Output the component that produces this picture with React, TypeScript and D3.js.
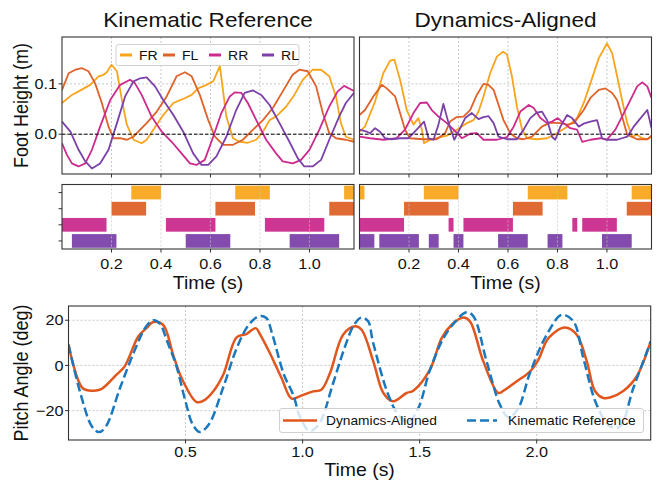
import React from "react";
import * as d3 from "d3";

type Pt = [number, number];

const legNames = ["FR", "FL", "RR", "RL"];
const legColors = ["#f8a51d", "#de6229", "#cb2b8d", "#7b41a9"];

// kinematic reference foot heights: [time s, height m]
const kinFR: Pt[] = [[0, 0.062], [0.04, 0.078], [0.067, 0.085], [0.114, 0.098], [0.148, 0.115], [0.168, 0.118], [0.181, 0.123], [0.2, 0.138], [0.222, 0.125], [0.242, 0.068], [0.262, 0.019], [0.289, -0.011], [0.322, -0.018], [0.342, -0.011], [0.369, 0.009], [0.409, 0.038], [0.45, 0.062], [0.49, 0.07], [0.524, 0.078], [0.55, 0.091], [0.584, 0.098], [0.611, 0.105], [0.638, 0.135], [0.664, 0.035], [0.691, -0.008], [0.718, -0.015], [0.751, -0.017], [0.785, -0.011], [0.812, 0.005], [0.839, 0.028], [0.865, 0.035], [0.906, 0.055], [0.939, 0.078], [0.973, 0.108], [1.013, 0.128], [1.047, 0.128], [1.08, 0.115], [1.107, 0.075], [1.127, 0.022], [1.147, -0.005], [1.18, -0.011]];
const kinFL: Pt[] = [[0, 0.088], [0.027, 0.121], [0.054, 0.128], [0.081, 0.131], [0.107, 0.125], [0.134, 0.101], [0.161, 0.062], [0.188, 0.015], [0.208, -0.008], [0.235, -0.008], [0.262, -0.011], [0.289, -0.005], [0.316, 0.009], [0.342, 0.022], [0.383, 0.045], [0.423, 0.075], [0.463, 0.115], [0.497, 0.123], [0.524, 0.115], [0.557, 0.078], [0.591, 0.028], [0.618, -0.005], [0.651, -0.021], [0.691, -0.021], [0.731, -0.011], [0.772, 0.009], [0.812, 0.028], [0.852, 0.052], [0.892, 0.085], [0.932, 0.118], [0.959, 0.128], [0.993, 0.125], [1.027, 0.095], [1.054, 0.042], [1.08, 0.002], [1.107, -0.008], [1.147, -0.011], [1.18, -0.015]];
const kinRR: Pt[] = [[0, -0.018], [0.02, -0.041], [0.04, -0.058], [0.067, -0.064], [0.094, -0.058], [0.121, -0.031], [0.154, 0.015], [0.195, 0.068], [0.235, 0.098], [0.275, 0.108], [0.295, 0.101], [0.322, 0.078], [0.362, 0.035], [0.403, 0.005], [0.443, -0.015], [0.483, -0.038], [0.517, -0.058], [0.543, -0.061], [0.577, -0.051], [0.611, -0.005], [0.644, 0.042], [0.678, 0.075], [0.698, 0.083], [0.725, 0.082], [0.751, 0.062], [0.785, 0.028], [0.825, -0.011], [0.865, -0.038], [0.892, -0.054], [0.933, -0.058], [0.966, -0.051], [1.0, -0.031], [1.04, 0.009], [1.08, 0.055], [1.114, 0.085], [1.14, 0.096], [1.18, 0.086]];
const kinRL: Pt[] = [[0, 0.025], [0.034, 0.005], [0.067, -0.031], [0.094, -0.054], [0.121, -0.068], [0.154, -0.058], [0.188, -0.031], [0.222, 0.022], [0.255, 0.075], [0.289, 0.105], [0.316, 0.111], [0.342, 0.113], [0.376, 0.095], [0.409, 0.068], [0.45, 0.038], [0.49, 0.005], [0.53, -0.038], [0.564, -0.061], [0.591, -0.061], [0.624, -0.044], [0.664, -0.005], [0.704, 0.048], [0.738, 0.082], [0.772, 0.087], [0.805, 0.078], [0.839, 0.058], [0.879, 0.022], [0.919, -0.015], [0.953, -0.048], [0.979, -0.064], [1.013, -0.064], [1.047, -0.051], [1.08, -0.011], [1.12, 0.035], [1.147, 0.062], [1.18, 0.082]];

// dynamics-aligned foot heights
const dynFR: Pt[] = [[0, 0.005], [0.022, 0.015], [0.063, 0.065], [0.096, 0.121], [0.124, 0.146], [0.141, 0.148], [0.164, 0.108], [0.191, 0.048], [0.218, 0.019], [0.238, 0.032], [0.252, 0.009], [0.261, -0.018], [0.285, -0.011], [0.312, -0.008], [0.353, -0.003], [0.393, 0.009], [0.434, 0.022], [0.461, 0.028], [0.481, 0.045], [0.501, 0.075], [0.528, 0.121], [0.555, 0.154], [0.58, 0.164], [0.596, 0.158], [0.616, 0.115], [0.636, 0.055], [0.657, 0.009], [0.677, -0.008], [0.717, -0.01], [0.758, -0.008], [0.798, 0.002], [0.839, 0.015], [0.879, 0.032], [0.906, 0.062], [0.933, 0.101], [0.967, 0.151], [1.0, 0.18], [1.021, 0.161], [1.041, 0.115], [1.061, 0.068], [1.082, 0.022], [1.102, -0.005], [1.122, -0.001], [1.142, -0.008], [1.163, -0.01], [1.18, -0.005]];
const dynFL: Pt[] = [[0, 0.038], [0.022, 0.048], [0.056, 0.075], [0.09, 0.098], [0.11, 0.091], [0.144, 0.075], [0.164, 0.042], [0.184, 0.009], [0.204, -0.008], [0.258, -0.01], [0.312, -0.01], [0.346, 0.002], [0.366, 0.025], [0.393, 0.034], [0.42, 0.035], [0.447, 0.048], [0.474, 0.078], [0.501, 0.1], [0.521, 0.098], [0.542, 0.088], [0.562, 0.058], [0.582, 0.028], [0.609, 0.002], [0.636, -0.008], [0.663, -0.01], [0.697, -0.005], [0.737, 0.015], [0.771, 0.023], [0.812, 0.022], [0.839, 0.019], [0.866, 0.022], [0.906, 0.048], [0.933, 0.072], [0.967, 0.088], [0.994, 0.091], [1.021, 0.082], [1.041, 0.068], [1.061, 0.035], [1.082, -0.001], [1.122, -0.01], [1.163, -0.01], [1.18, -0.003]];
const dynRR: Pt[] = [[0, -0.005], [0.043, -0.008], [0.097, -0.011], [0.15, -0.008], [0.184, 0.009], [0.218, 0.042], [0.245, 0.062], [0.272, 0.063], [0.292, 0.048], [0.319, 0.035], [0.353, 0.022], [0.38, 0.009], [0.414, -0.008], [0.447, 0.001], [0.474, 0.002], [0.501, -0.011], [0.555, -0.011], [0.596, -0.006], [0.623, 0.015], [0.65, 0.045], [0.684, 0.058], [0.704, 0.052], [0.731, 0.032], [0.758, 0.022], [0.778, 0.025], [0.801, 0.032], [0.825, 0.022], [0.852, 0.012], [0.879, 0.009], [0.9, -0.015], [0.933, -0.011], [0.974, -0.008], [1.0, -0.011], [1.034, 0.009], [1.061, 0.035], [1.095, 0.068], [1.122, 0.095], [1.142, 0.103], [1.163, 0.095], [1.18, 0.072]];
const dynRL: Pt[] = [[0, 0.009], [0.029, 0.005], [0.043, 0.002], [0.063, 0.012], [0.083, 0.005], [0.103, -0.008], [0.13, -0.01], [0.164, -0.008], [0.198, -0.008], [0.231, 0.009], [0.261, 0.025], [0.279, -0.008], [0.299, -0.011], [0.319, 0.019], [0.339, 0.06], [0.36, 0.022], [0.383, -0.011], [0.407, 0.012], [0.427, 0.032], [0.454, 0.042], [0.481, 0.03], [0.501, 0.034], [0.521, 0.036], [0.542, 0.022], [0.562, -0.005], [0.596, -0.01], [0.636, -0.01], [0.663, 0.009], [0.69, 0.032], [0.717, 0.043], [0.737, 0.045], [0.758, 0.028], [0.778, -0.005], [0.791, -0.011], [0.812, 0.015], [0.839, 0.038], [0.859, 0.032], [0.886, 0.015], [0.906, 0.021], [0.933, 0.025], [0.96, 0.028], [0.98, -0.008], [1.0, -0.011], [1.041, -0.011], [1.082, -0.005], [1.108, 0.015], [1.136, 0.032], [1.163, 0.048], [1.18, 0.012]];

// contact intervals [start s, end s]
const kinContactFR: Pt[] = [[0.28, 0.40], [0.70, 0.84], [1.14, 1.18]];
const kinContactFL: Pt[] = [[0.20, 0.34], [0.62, 0.78], [1.08, 1.18]];
const kinContactRR: Pt[] = [[0.0, 0.18], [0.42, 0.62], [0.82, 1.06]];
const kinContactRL: Pt[] = [[0.04, 0.22], [0.50, 0.68], [0.92, 1.12]];
const dynContactFR: Pt[] = [[0.0, 0.02], [0.26, 0.40], [0.68, 0.84], [1.10, 1.18]];
const dynContactFL: Pt[] = [[0.18, 0.36], [0.62, 0.74], [1.08, 1.18]];
const dynContactRR: Pt[] = [[0.0, 0.18], [0.36, 0.38], [0.42, 0.62], [0.86, 0.88], [0.90, 1.04]];
const dynContactRL: Pt[] = [[0.0, 0.06], [0.08, 0.24], [0.28, 0.32], [0.38, 0.42], [0.56, 0.68], [0.76, 0.82], [0.98, 1.10]];

// pitch angle: [time s, deg]
const pitchKin: Pt[] = [[0, 9.2], [0.05, -12], [0.1, -27], [0.13, -29.5], [0.16, -27], [0.22, -10], [0.28, 6], [0.33, 17], [0.362, 20], [0.39, 18.5], [0.42, 11], [0.46, 0], [0.5, -16], [0.53, -26], [0.561, -29.5], [0.6, -26], [0.66, -10], [0.72, 8], [0.77, 18], [0.815, 21.8], [0.845, 21], [0.87, 14], [0.92, -4], [0.96, -13], [0.99, -23], [1.03, -29], [1.07, -26], [1.13, -8], [1.18, 8], [1.22, 18], [1.252, 21.2], [1.28, 19.5], [1.30, 10.6], [1.366, -13], [1.41, -22], [1.45, -25], [1.494, -19], [1.544, -2], [1.615, 14.3], [1.70, 23.5], [1.73, 21.7], [1.786, 1.8], [1.843, -17.4], [1.88, -23], [1.921, -19], [1.971, -3.4], [2.043, 13.6], [2.107, 22.4], [2.157, 19.5], [2.199, 3.3], [2.256, -17.4], [2.313, -27], [2.355, -27], [2.413, -10], [2.487, 10.6]];
const pitchDyn: Pt[] = [[0, 9.2], [0.06, -10], [0.105, -11.2], [0.14, -10.5], [0.205, -4.1], [0.24, -0.4], [0.298, 12.8], [0.333, 16.5], [0.362, 19.2], [0.404, 18], [0.447, 4.7], [0.483, -5.6], [0.547, -16.2], [0.575, -15.7], [0.618, -11.5], [0.661, -4.1], [0.718, 12.4], [0.76, 13.9], [0.8, 16.5], [0.817, 14], [0.86, 5.5], [0.91, -5.6], [0.953, -14.7], [0.987, -13.7], [1.045, -11.5], [1.08, -10.8], [1.117, -3.4], [1.173, 13.6], [1.224, 17.3], [1.252, 15.8], [1.302, 1.8], [1.345, -12.2], [1.387, -15.9], [1.444, -12.2], [1.473, -11.2], [1.544, -1.9], [1.594, 12.1], [1.637, 18], [1.686, 21.2], [1.715, 19.5], [1.772, 1.8], [1.836, -12.2], [1.857, -11.3], [1.915, -7], [1.971, -2.7], [2.007, 2.5], [2.05, 12.1], [2.121, 16.8], [2.171, 13.6], [2.214, 1.8], [2.249, -11.3], [2.285, -14.4], [2.313, -14.2], [2.37, -11.3], [2.427, -4.9], [2.487, 10.6]];

const footTicks = [0.0, 0.1];
const timeTicksTop = [0.2, 0.4, 0.6, 0.8, 1.0];
const pitchTicks = [-20, 0, 20];
const timeTicksPitch = [0.5, 1.0, 1.5, 2.0];

const FONT = "'Liberation Sans', Arial, sans-serif";
const SX = 1.08; // figure looks slightly stretched horizontally
const GRID = "#c8c8c8";
const AX = "#333";

function Txt(props: any) {
  const { x, y, size, anchor = "middle", rot, sx = SX, children } = props;
  return (
    <text
      transform={`translate(${x},${y}) scale(${sx},1)${rot ? ` rotate(${rot})` : ""}`}
      fontSize={size}
      fontFamily={FONT}
      textAnchor={anchor}
      dy="0.35em"
      fill="#111"
    >
      {children}
    </text>
  );
}

function FootPanel({ x, y, series, id, showY }: any) {
  const [x0, x1] = x.range();
  const [y1, y0] = y.range();
  const line = d3.line<Pt>().x(d => x(d[0])).y(d => y(d[1]));
  return (
    <g>
      <clipPath id={id}><rect x={x0} y={y0} width={x1 - x0} height={y1 - y0} /></clipPath>
      {timeTicksTop.map(t => <line key={t} x1={x(t)} x2={x(t)} y1={y0} y2={y1} stroke={GRID} strokeDasharray="2,2" />)}
      {footTicks.map(t => <line key={t} x1={x0} x2={x1} y1={y(t)} y2={y(t)} stroke={GRID} strokeDasharray="2,2" />)}
      <g clipPath={`url(#${id})`}>
        {series.map((s: Pt[], i: number) => (
          <path key={i} d={line(s) || ""} fill="none" stroke={legColors[i]} strokeWidth={1.8} strokeLinejoin="round" />
        ))}
      </g>
      <line x1={x0} x2={x1} y1={y(0)} y2={y(0)} stroke="#000" strokeWidth={1} strokeDasharray="3.5,2" />
      <rect x={x0} y={y0} width={x1 - x0} height={y1 - y0} fill="none" stroke={AX} strokeWidth={1.1} />
      {timeTicksTop.map(t => <line key={t} x1={x(t)} x2={x(t)} y1={y1} y2={y1 + 3.5} stroke={AX} />)}
      {showY && footTicks.map(t => (
        <g key={t}>
          <line x1={x0 - 3.5} x2={x0} y1={y(t)} y2={y(t)} stroke={AX} />
          <Txt x={x0 - 5} y={y(t)} size={15} anchor="end">{t.toFixed(1)}</Txt>
        </g>
      ))}
    </g>
  );
}

function GaitPanel({ x, y, contacts, showY }: any) {
  const [x0, x1] = x.range();
  const [y0, y1] = y.range();
  const bh = (y(1) - y(0)) * 0.85;
  return (
    <g>
      {contacts.map((c: Pt[], i: number) =>
        c.map((iv, j) => (
          <rect key={i + "-" + j} x={x(iv[0])} width={x(iv[1]) - x(iv[0])} y={y(i) - bh / 2} height={bh} fill={legColors[i]} opacity={0.95} />
        ))
      )}
      {timeTicksTop.map(t => <line key={t} x1={x(t)} x2={x(t)} y1={y0} y2={y1} stroke={GRID} strokeDasharray="2,2" opacity={0.7} />)}
      <rect x={x0} y={y0} width={x1 - x0} height={y1 - y0} fill="none" stroke={AX} strokeWidth={1.1} />
      {timeTicksTop.map(t => (
        <g key={t}>
          <line x1={x(t)} x2={x(t)} y1={y1} y2={y1 + 3.5} stroke={AX} />
          <Txt x={x(t)} y={y1 + 15} size={15}>{t.toFixed(1)}</Txt>
        </g>
      ))}
      {showY && legNames.map((n, i) => <line key={n} x1={x0 - 3.5} x2={x0} y1={y(i)} y2={y(i)} stroke={AX} />)}
      <Txt x={(x0 + x1) / 2} y={y1 + 34} size={18}>Time (s)</Txt>
    </g>
  );
}

export default function App() {
  const xL = d3.scaleLinear().domain([0, 1.18]).range([62, 354]);
  const xR = d3.scaleLinear().domain([0, 1.18]).range([359.5, 651.5]);
  const yFoot = d3.scaleLinear().domain([-0.079, 0.193]).range([174, 37]);
  const yGait = d3.scaleLinear().domain([-0.5, 3.5]).range([184.5, 249]);
  const xP = d3.scaleLinear().domain([0, 2.487]).range([68.5, 650.7]);
  const yP = d3.scaleLinear().domain([-33, 26.3]).range([440, 306]);

  const pline = d3.line<Pt>().x(d => xP(d[0])).y(d => yP(d[1])).curve(d3.curveCatmullRom);

  const [px0, px1] = xP.range();
  const [py1, py0] = yP.range();

  return (
    <div style={{ position: "absolute", left: 0, top: 0 }}>
      <svg width={659} height={481} style={{ display: "block", background: "#fff" }}>
        <Txt x={208} y={19.5} size={20} sx={1.13}>Kinematic Reference</Txt>
        <Txt x={505.5} y={19.5} size={20} sx={1.13}>Dynamics-Aligned</Txt>
        <Txt x={21} y={105.5} size={18} rot={-90}>Foot Height (m)</Txt>

        <FootPanel x={xL} y={yFoot} series={[kinFR, kinFL, kinRR, kinRL]} id="clipL" showY />
        <FootPanel x={xR} y={yFoot} series={[dynFR, dynFL, dynRR, dynRL]} id="clipR" />

        {/* leg legend */}
        <rect x={116} y={44.5} width={183} height={21} rx={2.5} fill="#fff" fillOpacity={0.85} stroke="#d0d0d0" />
        {legNames.map((n, i) => {
          const lx = [120, 163, 209, 262][i];
          return (
            <g key={n}>
              <line x1={lx} x2={lx + 12} y1={55} y2={55} stroke={legColors[i]} strokeWidth={3} />
              <Txt x={lx + 19} y={55} size={13} anchor="start">{n}</Txt>
            </g>
          );
        })}

        <GaitPanel x={xL} y={yGait} contacts={[kinContactFR, kinContactFL, kinContactRR, kinContactRL]} showY />
        <GaitPanel x={xR} y={yGait} contacts={[dynContactFR, dynContactFL, dynContactRR, dynContactRL]} />

        {/* pitch panel */}
        <clipPath id="clipP"><rect x={px0} y={py0} width={px1 - px0} height={py1 - py0} /></clipPath>
        {timeTicksPitch.map(t => <line key={t} x1={xP(t)} x2={xP(t)} y1={py0} y2={py1} stroke={GRID} strokeDasharray="2,2" />)}
        {pitchTicks.map(t => <line key={t} x1={px0} x2={px1} y1={yP(t)} y2={yP(t)} stroke={GRID} strokeDasharray="2,2" />)}
        <g clipPath="url(#clipP)">
          <path d={pline(pitchDyn) || ""} fill="none" stroke="#e0561d" strokeWidth={2.5} />
          <path d={pline(pitchKin) || ""} fill="none" stroke="#1b78bd" strokeWidth={2.5} strokeDasharray="9,4" />
        </g>
        <rect x={px0} y={py0} width={px1 - px0} height={py1 - py0} fill="none" stroke={AX} strokeWidth={1.1} />
        {pitchTicks.map(t => (
          <g key={t}>
            <line x1={px0 - 3.5} x2={px0} y1={yP(t)} y2={yP(t)} stroke={AX} />
            <Txt x={px0 - 5} y={yP(t)} size={15} anchor="end">{t < 0 ? "\u2212" + Math.abs(t) : String(t)}</Txt>
          </g>
        ))}
        {timeTicksPitch.map(t => (
          <g key={t}>
            <line x1={xP(t)} x2={xP(t)} y1={py1} y2={py1 + 3.5} stroke={AX} />
            <Txt x={xP(t)} y={py1 + 12} size={15}>{t.toFixed(1)}</Txt>
          </g>
        ))}
        <Txt x={(px0 + px1) / 2} y={py1 + 30} size={18}>Time (s)</Txt>
        <Txt x={21} y={(py0 + py1) / 2} size={18} rot={-90}>Pitch Angle (deg)</Txt>

        {/* pitch legend */}
        <rect x={279.5} y={408.5} width={364} height={24} rx={2.5} fill="#fff" fillOpacity={0.8} stroke="#d0d0d0" />
        <line x1={283} x2={317} y1={420.5} y2={420.5} stroke="#e0561d" strokeWidth={2.5} />
        <Txt x={326} y={420.5} size={13} sx={1.06}>
          <tspan textAnchor="start">Dynamics-Aligned</tspan>
        </Txt>
        <line x1={467} x2={497} y1={420.5} y2={420.5} stroke="#1b78bd" strokeWidth={2.5} strokeDasharray="9,4" />
        <Txt x={508} y={420.5} size={13} sx={1.06} anchor="start">Kinematic Reference</Txt>
      </svg>
    </div>
  );
}
